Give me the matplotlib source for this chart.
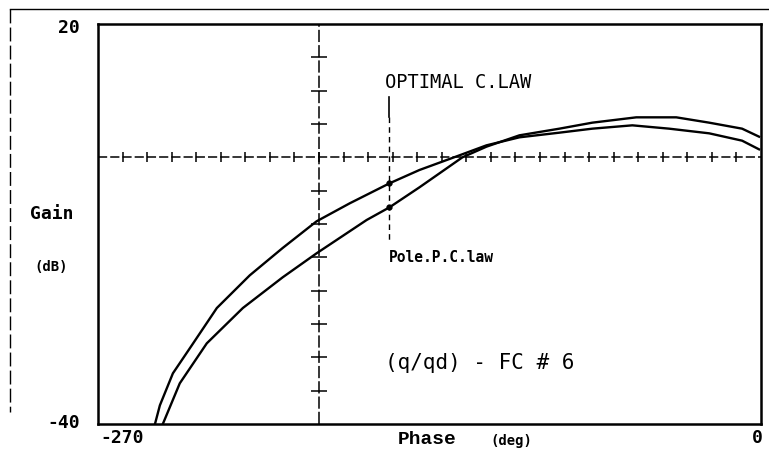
import numpy as np
import matplotlib
matplotlib.use('Agg')
import matplotlib.pyplot as plt
from matplotlib.lines import Line2D

# curve (phase in deg, gain in dB)
opt_phase = [-246.8, -244.8, -239.5, -231.8, -221.6, -208.2, -194.8, -181.0, -167.5,
             -151.3, -139.1, -122.8, -111.8, -98.4, -82.1, -68.7, -52.4, -37.4,
             -21.1, -7.7, -0.8]
opt_gain = [-40.0, -37.2, -32.4, -28.2, -22.6, -17.7, -13.6, -9.6, -6.9,
            -3.9, -1.9, 0.3, 1.8, 3.0, 3.7, 4.3, 4.8, 4.3,
            3.6, 2.5, 1.2]

pole_phase = [-243.6, -236.7, -225.7, -211.0, -194.8, -181.0, -160.6, -151.3, -139.1,
              -121.6, -111.8, -98.4, -82.1, -68.7, -50.8, -34.5, -21.1, -7.7, -0.8]
pole_gain = [-40.0, -33.9, -27.9, -22.6, -18.0, -14.4, -9.4, -7.5, -4.5,
             0.0, 1.6, 3.3, 4.3, 5.2, 6.0, 6.0, 5.2, 4.3, 3.1]

marker_phase = -151.3
marker_gains = [-3.9, -7.5]

phase_ticks = list(range(-260, 0, 10))
gain_ticks = [15, 10, 5, -5, -10, -15, -20, -25, -30, -35]

mono = 'DejaVu Sans Mono'

fig = plt.figure(figsize=(7.69, 4.57), dpi=100)
ax = fig.add_axes([98/769, 1-424/457, 663/769, 400/457])
ax.set_xlim(-270, 0)
ax.set_ylim(-40, 20)
ax.set_xticks([])
ax.set_yticks([])
for s in ax.spines.values():
    s.set_linewidth(1.8)

# crossing axes with tick marks
ax.axhline(0, color='black', lw=1.1, ls=(0, (6, 2)))
ax.axvline(-180, color='black', lw=1.1, ls=(0, (8, 2)))
ax.plot(phase_ticks, [0]*len(phase_ticks), ls='none', marker='|', ms=7, mew=1.1, color='black')
ax.plot([-180]*len(gain_ticks), gain_ticks, ls='none', marker='_', ms=12, mew=1.1, color='black')

ax.plot(opt_phase, opt_gain, color='black', lw=1.7)
ax.plot(pole_phase, pole_gain, color='black', lw=1.7)
ax.plot([marker_phase]*2, marker_gains, ls='none', marker='o', ms=3.5, color='black')

# leader line to the labels
ax.plot([marker_phase, marker_phase], [9.0, 6.0], color='black', lw=1.2)
ax.plot([marker_phase, marker_phase], [6.0, -12.5], color='black', lw=1.0, ls=(0, (4, 3)))

ax.text(-153, 11.2, 'OPTIMAL C.LAW', family=mono, fontsize=13.5, va='center', ha='left')
ax.text(-151.5, -15.0, 'Pole.P.C.law', family=mono, fontsize=10.5, fontweight='bold',
        va='center', ha='left')
ax.text(-153, -30.9, '(q/qd) - FC # 6', family=mono, fontsize=15, va='center', ha='left')

# axis labels drawn as figure text
fig.text(80/769, 1-28/457, '20', family=mono, fontsize=13, fontweight='bold', ha='right', va='center')
fig.text(80/769, 1-423/457, '-40', family=mono, fontsize=13, fontweight='bold', ha='right', va='center')
fig.text(100/769, 1-438/457, '-270', family=mono, fontsize=13, fontweight='bold', ha='left', va='center')
fig.text(763/769, 1-438/457, '0', family=mono, fontsize=13, fontweight='bold', ha='right', va='center')
fig.text(398/769, 1-439/457, 'Phase', family='Liberation Mono', fontsize=14, fontweight='bold', ha='left', va='center')
fig.text(490/769, 1-441/457, '(deg)', family=mono, fontsize=10, fontweight='bold', ha='left', va='center')
fig.text(30/769, 1-214/457, 'Gain', family=mono, fontsize=13, fontweight='bold', ha='left', va='center')
fig.text(34/769, 1-267/457, '(dB)', family=mono, fontsize=10, fontweight='bold', ha='left', va='center')

# outer frame of the scanned page
fig.add_artist(Line2D([10/769, 1.0], [1-9/457, 1-9/457], transform=fig.transFigure, color='black', lw=1.0))
fig.add_artist(Line2D([10/769, 10/769], [1-9/457, 1-412/457], transform=fig.transFigure,
                      color='black', lw=1.0, ls=(0, (10, 3))))

fig.savefig('out.png', dpi=100)
